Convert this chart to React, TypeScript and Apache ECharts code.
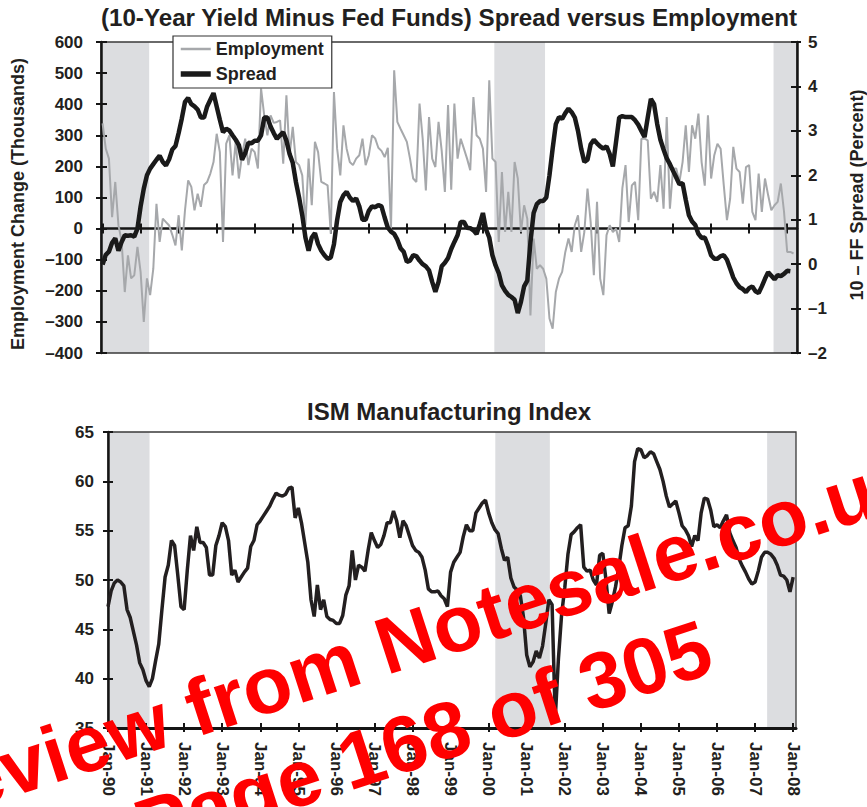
import React, { useEffect, useRef } from 'react';
import * as echarts from 'echarts';

const FONT = '"Liberation Sans", Arial, Helvetica, sans-serif';
const INK = '#231f20';

// Monthly values, Jan-90 onward (index 0 = Jan-90)
const employment = [
  338, 257, 225, 37, 150, 11, -40, -204, -86, -160, -150, -59,
  -140, -300, -160, -214, -129, 80, -43, 32, 21, 10, -20, -54,
  43, -70, 59, 155, 134, 59, 112, 70, 140, 150, 177, 214,
  305, 246, -43, 273, 300, 171, 279, 161, 236, 289, 204, 257,
  246, 193, 450, 364, 300, 364, 340, 343, 348, 209, 429, 236,
  327, 214, 204, 171, 11, 225, 75, 279, 246, 150, 145, 139,
  -16, 439, 257, 171, 332, 257, 214, 204, 225, 236, 289, 204,
  236, 300, 290, 260, 250, 230, 260, 0, 509, 343, 321, 300,
  279, 225, 161, 150, 402, 289, 123, 359, 225, 198, 343, 250,
  118, 397, 125, 402, 225, 289, 257, 225, 188, 423, 300, 289,
  257, 118, 477, 225, 214, -43, 182, -11, 118, -11, 214, 161,
  -11, 75, 32, -279, -32, -129, -118, -129, -161, -289, -322, -204,
  -161, -139, -75, -32, -75, 11, 43, -75, -11, 129, 21, -150,
  86, -161, -214, -21, 11, -11, 0, -43, 130, 204, 21, 139,
  150, 27, 289, 289, 284, 96, 118, 86, 204, 64, 359, 64,
  193, 193, 150, 214, 332, 182, 332, 289, 370, 214, 138, 364,
  161, 236, 273, 257, 139, 27, 96, 263, 193, 182, 80, 198,
  204, 54, 27, 177, 54, 161, 107, 59, 75, 86, 145, 55,
  -75, -75, -80,
];

const spread = [
  -0.01, 0.21, 0.28, 0.48, 0.58, 0.3, 0.5, 0.65, 0.64, 0.65, 0.62, 0.8,
  1.3, 1.7, 2.0, 2.15, 2.25, 2.35, 2.44, 2.3, 2.22, 2.36, 2.58, 2.66,
  2.95, 3.28, 3.65, 3.74, 3.6, 3.55, 3.48, 3.3, 3.3, 3.55, 3.7, 3.85,
  3.55, 3.25, 2.97, 3.05, 3.01, 2.9, 2.8, 2.68, 2.35, 2.5, 2.73, 2.72,
  2.78, 2.78, 2.9, 3.3, 3.3, 3.1, 2.95, 2.82, 2.9, 2.97, 2.78, 2.48,
  2.28, 1.85, 1.5, 1.1, 0.6, 0.3, 0.6, 0.7, 0.45, 0.3, 0.2, 0.12,
  0.15, 0.45, 0.99, 1.4, 1.55, 1.63, 1.5, 1.42, 1.48, 1.3, 1.0, 1.0,
  1.2, 1.3, 1.28, 1.33, 1.3, 1.05, 0.82, 0.73, 0.68, 0.55, 0.36, 0.28,
  0.05, 0.08, 0.2, 0.18, 0.08, 0.0, -0.05, -0.14, -0.4, -0.62, -0.4, -0.05,
  0.03, 0.14, 0.34, 0.5, 0.65, 0.95, 0.95, 0.82, 0.81, 0.76, 0.68, 0.9,
  1.15, 0.78, 0.6, 0.2, -0.03, -0.2, -0.48, -0.6, -0.69, -0.74, -0.8, -1.1,
  -0.85, -0.5, -0.37, 0.5, 1.15, 1.35, 1.42, 1.42, 1.5, 2.0, 2.6, 3.15,
  3.31, 3.27, 3.4, 3.5, 3.42, 3.3, 3.0, 2.6, 2.3, 2.35, 2.7, 2.8,
  2.72, 2.65, 2.6, 2.65, 2.48, 2.2, 2.75, 3.3, 3.33, 3.31, 3.31, 3.31,
  3.24, 3.14, 3.0, 2.86, 3.3, 3.72, 3.6, 3.15, 2.8, 2.58, 2.38, 2.25,
  2.1, 1.95, 1.8, 1.82, 1.45, 1.1, 0.96, 0.88, 0.68, 0.59, 0.6, 0.42,
  0.2, 0.12, 0.12, 0.18, 0.2, 0.1, -0.1, -0.3, -0.43, -0.52, -0.56, -0.63,
  -0.54, -0.5, -0.61, -0.65, -0.5, -0.33, -0.18, -0.26, -0.34, -0.25, -0.27, -0.22,
  -0.15, -0.16,
];

const ism = [
  47.3, 48.9, 49.7, 50.0, 49.8, 49.4, 47.0, 46.2, 44.8, 43.4, 41.6, 40.9,
  39.8, 39.2, 40.0, 41.8, 43.5, 47.0, 50.3, 51.5, 54.0, 53.5, 50.5, 47.3,
  47.0, 51.0, 54.5, 53.0, 55.4, 53.8, 53.8, 53.3, 50.5, 50.5, 53.5, 54.5,
  55.8, 55.4, 54.0, 50.5, 51.0, 49.8, 50.3, 50.8, 51.2, 53.4, 54.0, 55.6,
  56.0, 56.5, 57.0, 57.5, 58.2, 58.8, 58.6, 58.5, 58.7, 59.3, 59.4, 56.3,
  57.3, 55.8, 53.8, 51.8, 48.0, 46.3, 49.5, 47.0, 48.0, 46.3, 46.0, 45.9,
  45.6, 45.6, 46.4, 48.5, 49.4, 53.0, 50.0, 51.5, 51.3, 50.9, 53.0, 54.8,
  54.0, 53.3, 53.6, 54.5, 55.8, 55.8, 57.0, 56.0, 54.3, 56.0, 55.5, 54.5,
  53.5, 53.0, 52.8, 52.3, 51.0, 49.1, 48.8, 48.8, 48.9, 48.4, 48.1, 47.3,
  50.8, 51.8, 52.3, 52.8, 54.4, 55.6, 55.0, 55.0, 56.8, 57.3, 57.8, 58.1,
  56.8, 55.8, 55.1, 54.7, 53.2, 52.0, 52.3, 50.2, 49.3, 49.0, 48.4, 46.2,
  42.4, 41.2, 41.7, 42.8, 42.1, 43.3, 45.6, 48.0, 47.5, 36.0, 42.0, 46.5,
  49.2, 52.6, 54.6, 54.9, 55.3, 55.6, 51.3, 50.9, 51.0, 50.0, 49.5, 52.5,
  52.7, 50.0, 46.6, 47.8, 49.3, 51.2, 53.5, 55.3, 55.5, 57.5, 62.0, 63.3,
  63.2, 62.4, 62.6, 63.0, 62.8, 62.0, 61.2, 60.0, 58.5, 57.4, 57.7, 58.0,
  56.8, 55.5, 55.1, 54.5, 53.4, 54.5, 54.0, 56.8, 58.3, 58.2, 57.1, 55.4,
  55.6, 55.3, 56.0, 56.6, 54.8, 54.0, 53.3, 52.1, 51.4, 50.8, 50.1, 49.6,
  49.8, 50.9, 52.3, 52.8, 52.8, 52.6, 52.2, 51.5, 50.5, 50.4, 50.0, 48.8,
  50.3,
];

const xTickLabels = [
  'Jan-90', 'Jan-91', 'Jan-92', 'Jan-93', 'Jan-94', 'Jan-95', 'Jan-96', 'Jan-97', 'Jan-98', 'Jan-99',
  'Jan-00', 'Jan-01', 'Jan-02', 'Jan-03', 'Jan-04', 'Jan-05', 'Jan-06', 'Jan-07', 'Jan-08',
];

// Recession shading, in month index (start, end)
const topRecessions = [[-0.5, 14.7], [123.6, 139.6], [211.7, 219.1]];
const bottomRecessions = [[0.6, 13.1], [122.1, 139.3], [207.8, 216.9]];

const tickMonths = xTickLabels.map((_, k) => k * 12);
const pairs = (arr: number[]) => arr.map((v, i) => [i, v]);
const dash = (v: number) => (v < 0 ? '\u2013' + Math.abs(v) : String(v));

const AXIS_COLOR = '#151515';
const GRAY = '#a6a8ab';
const BLACK = '#1a1a1a';
const labelStyle = { fontSize: 17, fontWeight: 'bold' as const, color: INK, fontFamily: FONT };

export default function App() {
  const ref = useRef<HTMLDivElement>(null);
  useEffect(() => {
    document.body.style.margin = '0';
    if (!ref.current) return;
    const chart = echarts.init(ref.current, undefined, { renderer: 'svg' });
    const TOP = { left: 101, top: 42, width: 696, height: 311 };
    const BOT = { left: 108, top: 432, width: 688, height: 296 };
    const option: any = {
      animation: false,
      backgroundColor: '#ffffff',
      grid: [
        { ...TOP, show: true, borderColor: '#3a3a3a', borderWidth: 1.3, z: 2 },
        { ...BOT, show: true, borderColor: '#3a3a3a', borderWidth: 1.3, z: 2 },
        { ...TOP, show: false },
        { ...BOT, show: false },
      ],
      xAxis: [
        {
          gridIndex: 0, type: 'value', min: -0.5, max: 219.1, position: 'bottom', z: 3,
          axisLine: { show: true, onZero: true, onZeroAxisIndex: 0, lineStyle: { color: AXIS_COLOR, width: 2.5 } },
          axisTick: { show: true, inside: true, length: 5, customValues: tickMonths, lineStyle: { color: AXIS_COLOR, width: 2 } },
          axisLabel: { show: false }, splitLine: { show: false },
        },
        {
          gridIndex: 1, type: 'value', min: 0, max: 216.9, position: 'bottom', z: 3,
          axisLine: { show: true, onZero: false, lineStyle: { color: AXIS_COLOR, width: 3 } },
          axisTick: { show: true, inside: true, length: 5, customValues: tickMonths, lineStyle: { color: AXIS_COLOR, width: 2 } },
          axisLabel: {
            show: true, customValues: tickMonths, rotate: -90, margin: 14,
            formatter: (v: number) => xTickLabels[Math.round(v / 12)] ?? '',
            ...labelStyle,
          },
          splitLine: { show: false },
        },
        {
          gridIndex: 2, type: 'value', min: -0.5, max: 219.1, position: 'bottom', z: 3,
          axisLine: { show: false, onZero: true, onZeroAxisIndex: 3 },
          axisTick: { show: true, inside: false, length: 5, customValues: tickMonths, lineStyle: { color: AXIS_COLOR, width: 2 } },
          axisLabel: { show: false }, splitLine: { show: false },
        },
        {
          gridIndex: 3, type: 'value', min: 0, max: 216.9, position: 'bottom', z: 3,
          axisLine: { show: false, onZero: false },
          axisTick: { show: true, inside: false, length: 4, customValues: tickMonths, lineStyle: { color: AXIS_COLOR, width: 2 } },
          axisLabel: { show: false }, splitLine: { show: false },
        },
      ],
      yAxis: [
        {
          gridIndex: 0, type: 'value', min: -400, max: 600, interval: 100, position: 'left', z: 3,
          axisLine: { show: true, onZero: false, lineStyle: { color: AXIS_COLOR, width: 2.5 } },
          axisTick: { show: true, inside: false, length: 5, lineStyle: { color: AXIS_COLOR, width: 2 } },
          axisLabel: { margin: 18, formatter: dash, ...labelStyle },
          splitLine: { show: false },
        },
        {
          gridIndex: 0, type: 'value', min: -2, max: 5, interval: 1, position: 'right', z: 3,
          axisLine: { show: true, onZero: false, lineStyle: { color: AXIS_COLOR, width: 2.5 } },
          axisTick: { show: true, inside: false, length: 4, lineStyle: { color: AXIS_COLOR, width: 2 } },
          axisLabel: { margin: 11, formatter: dash, ...labelStyle },
          splitLine: { show: false },
        },
        {
          gridIndex: 1, type: 'value', min: 35, max: 65, interval: 5, position: 'left', z: 3,
          axisLine: { show: true, onZero: false, lineStyle: { color: AXIS_COLOR, width: 2.5 } },
          axisTick: { show: true, inside: false, length: 5, lineStyle: { color: AXIS_COLOR, width: 2 } },
          axisLabel: { margin: 14, ...labelStyle },
          splitLine: { show: false },
        },
        {
          gridIndex: 2, type: 'value', min: -400, max: 600, interval: 100, position: 'left', z: 3,
          axisLine: { show: false, onZero: false },
          axisTick: { show: true, inside: true, length: 6, lineStyle: { color: AXIS_COLOR, width: 2 } },
          axisLabel: { show: false }, splitLine: { show: false },
        },
        {
          gridIndex: 2, type: 'value', min: -2, max: 5, interval: 1, position: 'right', z: 3,
          axisLine: { show: false, onZero: false },
          axisTick: { show: true, inside: true, length: 6, lineStyle: { color: AXIS_COLOR, width: 2 } },
          axisLabel: { show: false }, splitLine: { show: false },
        },
        {
          gridIndex: 3, type: 'value', min: 35, max: 65, interval: 5, position: 'left', z: 3,
          axisLine: { show: false, onZero: false },
          axisTick: { show: true, inside: true, length: 5, lineStyle: { color: AXIS_COLOR, width: 2 } },
          axisLabel: { show: false }, splitLine: { show: false },
        },
      ],
      legend: {
        data: [
          { name: 'Employment', lineStyle: { color: GRAY, width: 2.5 } },
          { name: 'Spread', lineStyle: { color: BLACK, width: 5.5 } },
        ],
        orient: 'vertical', left: 173, top: 36, z: 8,
        backgroundColor: '#ffffff', borderColor: '#333', borderWidth: 1.2,
        padding: [4, 8, 5, 5], itemGap: 7, itemWidth: 30, itemHeight: 16,
        itemStyle: { opacity: 0 },
        textStyle: { fontSize: 18, fontWeight: 'bold', color: INK, fontFamily: FONT, padding: [0, 0, 0, 0] },
      },
      series: [
        {
          name: 'shadeTop', type: 'line', xAxisIndex: 0, yAxisIndex: 0, data: [], z: 1, silent: true,
          markArea: {
            silent: true, itemStyle: { color: '#dcdde0' },
            data: topRecessions.map(([a, b]) => [{ xAxis: a }, { xAxis: b }]),
          },
        },
        {
          name: 'shadeBottom', type: 'line', xAxisIndex: 1, yAxisIndex: 2, data: [], z: 1, silent: true,
          markArea: {
            silent: true, itemStyle: { color: '#dcdde0' },
            data: bottomRecessions.map(([a, b]) => [{ xAxis: a }, { xAxis: b }]),
          },
        },
        {
          name: 'Employment', type: 'line', xAxisIndex: 0, yAxisIndex: 0, z: 4,
          data: pairs(employment), symbol: 'none', showSymbol: false,
          lineStyle: { color: GRAY, width: 2 }, itemStyle: { color: GRAY },
        },
        {
          name: 'Spread', type: 'line', xAxisIndex: 0, yAxisIndex: 1, z: 5,
          data: pairs(spread), symbol: 'none', showSymbol: false,
          lineStyle: { color: BLACK, width: 4.5 }, itemStyle: { color: BLACK },
        },
        {
          name: 'ISM', type: 'line', xAxisIndex: 1, yAxisIndex: 2, z: 5,
          data: pairs(ism), symbol: 'none', showSymbol: false,
          lineStyle: { color: '#231f20', width: 3.5 }, itemStyle: { color: '#231f20' },
        },
      ],
      graphic: [
        {
          type: 'text', x: 449, y: 17, z: 10,
          style: { text: '(10-Year Yield Minus Fed Funds) Spread versus Employment', fontSize: 24.2, fontWeight: 'bold', fontFamily: FONT, fill: INK, align: 'center', verticalAlign: 'middle' },
        },
        {
          type: 'text', x: 449, y: 411, z: 10,
          style: { text: 'ISM Manufacturing Index', fontSize: 24, fontWeight: 'bold', fontFamily: FONT, fill: INK, align: 'center', verticalAlign: 'middle' },
        },
        {
          type: 'text', x: 18, y: 204, rotation: Math.PI / 2, z: 10,
          style: { text: 'Employment Change (Thousands)', fontSize: 18, fontWeight: 'bold', fontFamily: FONT, fill: INK, align: 'center', verticalAlign: 'middle' },
        },
        {
          type: 'text', x: 857, y: 195, rotation: Math.PI / 2, z: 10,
          style: { text: '10 \u2013 FF Spread (Percent)', fontSize: 18, fontWeight: 'bold', fontFamily: FONT, fill: INK, align: 'center', verticalAlign: 'middle' },
        },
        {
          type: 'text', x: 397, y: 643, rotation: 0.314, z: 100,
          style: { text: 'Preview from Notesale.co.uk', fontSize: 80, fontWeight: 'bold', fontFamily: FONT, fill: '#ff0000', align: 'center', verticalAlign: 'middle' },
        },
        {
          type: 'text', x: 423, y: 738, rotation: 0.314, z: 100,
          style: { text: 'Page 168 of 305', fontSize: 80, fontWeight: 'bold', fontFamily: FONT, fill: '#ff0000', align: 'center', verticalAlign: 'middle' },
        },
      ],
    };
    chart.setOption(option);
    return () => chart.dispose();
  }, []);
  return <div ref={ref} style={{ width: 867, height: 807 }} />;
}
